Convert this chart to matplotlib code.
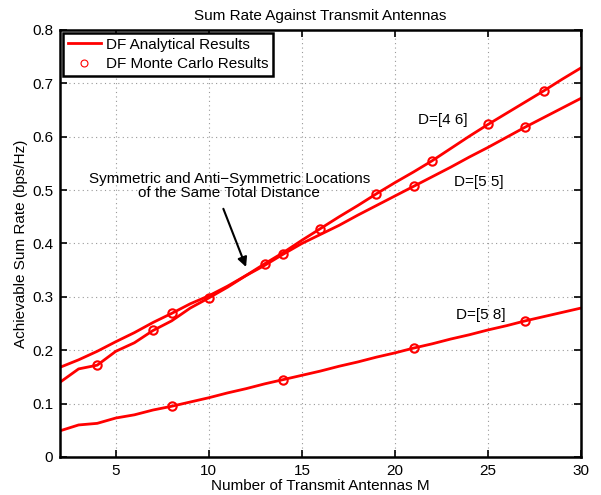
import matplotlib.pyplot as plt
import numpy as np

plt.rcParams['font.family'] = ['Liberation Sans', 'DejaVu Sans']

# Analytical curves, M = 2..30
M = np.arange(2, 31)
rate_46 = [0.140, 0.165, 0.172, 0.198, 0.214, 0.237, 0.255, 0.279, 0.298,
           0.318, 0.340, 0.362, 0.383, 0.406, 0.428, 0.450, 0.471, 0.493,
           0.514, 0.534, 0.555, 0.578, 0.601, 0.623, 0.644, 0.665, 0.686,
           0.708, 0.729]
rate_55 = [0.168, 0.182, 0.198, 0.216, 0.233, 0.252, 0.269, 0.287, 0.302,
           0.320, 0.340, 0.359, 0.380, 0.400, 0.417, 0.434, 0.453, 0.471,
           0.489, 0.507, 0.525, 0.543, 0.562, 0.580, 0.599, 0.618, 0.636,
           0.654, 0.672]
rate_58 = [0.049, 0.060, 0.063, 0.073, 0.079, 0.088, 0.095, 0.103, 0.111,
           0.120, 0.128, 0.137, 0.145, 0.153, 0.161, 0.170, 0.178, 0.187,
           0.195, 0.204, 0.212, 0.221, 0.229, 0.238, 0.246, 0.255, 0.263,
           0.271, 0.279]

# Monte Carlo points
mc_x_46 = [4, 7, 10, 13, 16, 19, 22, 25, 28]
mc_y_46 = [0.172, 0.237, 0.298, 0.362, 0.428, 0.493, 0.555, 0.623, 0.686]
mc_x_55 = [8, 14, 21, 27]
mc_y_55 = [0.269, 0.380, 0.507, 0.618]
mc_x_58 = [8, 14, 21, 27]
mc_y_58 = [0.095, 0.145, 0.204, 0.255]

fig = plt.figure(figsize=(6.01, 4.95), dpi=100)
ax = fig.add_axes([0.0998, 0.0768, 0.8669, 0.8626])

ax.plot(M, rate_46, color='red', lw=2, label='DF Analytical Results')
ax.plot(M, rate_55, color='red', lw=2)
ax.plot(M, rate_58, color='red', lw=2)
mk = dict(ls='none', marker='o', ms=6, mfc='none', mec='red', mew=1.5)
ax.plot(mc_x_46, mc_y_46, **mk)
ax.plot(mc_x_55, mc_y_55, **mk)
ax.plot(mc_x_58, mc_y_58, **mk)
# legend-only handle (thin marker like the original)
ax.plot([], [], ls='none', marker='o', ms=5, mfc='none', mec='red', mew=0.8,
        label='DF Monte Carlo Results')

ax.set_xlim(2, 30)
ax.set_ylim(0, 0.8)
ax.set_xticks([5, 10, 15, 20, 25, 30])
ax.set_yticks(np.arange(0, 0.81, 0.1))
ax.set_yticklabels(['0', '0.1', '0.2', '0.3', '0.4', '0.5', '0.6', '0.7', '0.8'])
ax.grid(True, ls=(0, (1, 3)), color='#999999', lw=0.8)
ax.tick_params(direction='in', length=5, width=1.2, top=True, right=True,
               labelsize=11, pad=5)
for s in ax.spines.values():
    s.set_linewidth(1.8)

ax.set_title('Sum Rate Against Transmit Antennas', fontsize=11, pad=7)
ax.set_xlabel('Number of Transmit Antennas M', fontsize=11, labelpad=1)
ax.set_ylabel('Achievable Sum Rate (bps/Hz)', fontsize=11, labelpad=3)

ax.text(22.6, 0.631, 'D=[4 6]', fontsize=11, ha='center', va='center')
ax.text(24.5, 0.516, 'D=[5 5]', fontsize=11, ha='center', va='center')
ax.text(24.6, 0.266, 'D=[5 8]', fontsize=11, ha='center', va='center')

ax.text(11.1, 0.508, 'Symmetric and Anti\u2212Symmetric Locations\nof the Same Total Distance',
        fontsize=11, ha='center', va='center', linespacing=1.05)
ax.annotate('', xy=(12.0, 0.356), xytext=(10.78, 0.465),
            arrowprops=dict(arrowstyle='-|>', color='black', lw=1.5,
                            mutation_scale=14, shrinkA=0, shrinkB=0))

leg = ax.legend(loc='upper left', fontsize=11, frameon=True, fancybox=False,
                borderaxespad=0.2, handlelength=2.2, handletextpad=0.3,
                borderpad=0.3, labelspacing=0.35, edgecolor='black')
leg.get_frame().set_linewidth(1.8)
leg.get_frame().set_alpha(1)

fig.savefig('out.png', dpi=100)
